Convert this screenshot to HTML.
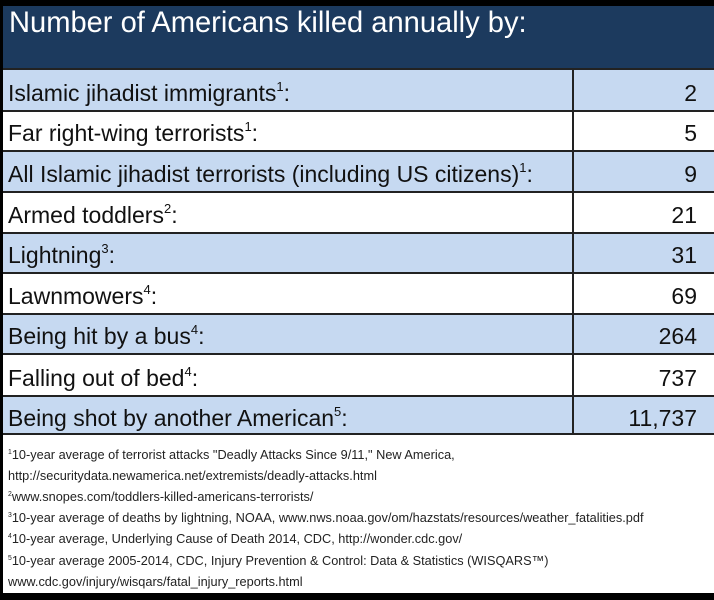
<!DOCTYPE html>
<html><head><meta charset="utf-8"><style>
body{margin:0;width:714px;height:600px;background:#000;overflow:hidden;font-family:"Liberation Sans",Arial,sans-serif;position:relative}
.hdr{position:absolute;left:3px;top:6px;width:711px;height:62px;background:#1c3a5e;color:#fff}
.hdr span{position:absolute;left:6px;top:0px;font-size:30px;transform:scaleX(.97);transform-origin:left top;white-space:nowrap}
.row{position:absolute;left:3px;width:711px;border-top:2px solid #222;box-sizing:border-box}
.b{background:#c6d9f1}.w{background:#fff}
.row .l{position:absolute;left:5px;bottom:3px;font-size:23px;color:#111;transform:scaleX(1.0);transform-origin:left bottom;white-space:nowrap}
.row .r{position:absolute;right:17px;bottom:3px;font-size:23px;color:#111}
.row .d{position:absolute;left:569px;top:0;bottom:0;width:2px;background:#222}
sup{font-size:13px;vertical-align:10px;line-height:0}
.foot{position:absolute;left:3px;top:433px;width:711px;height:160px;background:#fff;border-top:2px solid #222;box-sizing:border-box}
.foot div{position:absolute;left:5px;font-size:13px;color:#222;transform:scaleX(.98);transform-origin:left top;white-space:nowrap}
.foot sup{font-size:7px;vertical-align:5px}
</style></head><body>
<div class="hdr"><span>Number of Americans killed annually by:</span></div>
<div class="row b" style="top:68px;height:42px"><span class="l">Islamic jihadist immigrants<sup>1</sup>:</span><span class="d"></span><span class="r">2</span></div>
<div class="row w" style="top:110px;height:40px"><span class="l">Far right-wing terrorists<sup>1</sup>:</span><span class="d"></span><span class="r">5</span></div>
<div class="row b" style="top:150px;height:41px"><span class="l">All Islamic jihadist terrorists (including US citizens)<sup>1</sup>:</span><span class="d"></span><span class="r">9</span></div>
<div class="row w" style="top:191px;height:41px"><span class="l">Armed toddlers<sup>2</sup>:</span><span class="d"></span><span class="r">21</span></div>
<div class="row b" style="top:232px;height:40px"><span class="l">Lightning<sup>3</sup>:</span><span class="d"></span><span class="r">31</span></div>
<div class="row w" style="top:272px;height:41px"><span class="l">Lawnmowers<sup>4</sup>:</span><span class="d"></span><span class="r">69</span></div>
<div class="row b" style="top:313px;height:40px"><span class="l">Being hit by a bus<sup>4</sup>:</span><span class="d"></span><span class="r">264</span></div>
<div class="row w" style="top:353px;height:42px"><span class="l">Falling out of bed<sup>4</sup>:</span><span class="d"></span><span class="r">737</span></div>
<div class="row b" style="top:395px;height:40px"><span class="l">Being shot by another American<sup>5</sup>:</span><span class="d"></span><span class="r">11,737</span></div>
<div class="foot">
<div style="top:12px"><sup>1</sup>10-year average of terrorist attacks "Deadly Attacks Since 9/11," New America,</div>
<div style="top:33px">http://securitydata.newamerica.net/extremists/deadly-attacks.html</div>
<div style="top:54px"><sup>2</sup>www.snopes.com/toddlers-killed-americans-terrorists/</div>
<div style="top:75px"><sup>3</sup>10-year average of deaths by lightning, NOAA, www.nws.noaa.gov/om/hazstats/resources/weather_fatalities.pdf</div>
<div style="top:96px"><sup>4</sup>10-year average, Underlying Cause of Death 2014, CDC, http://wonder.cdc.gov/</div>
<div style="top:118px"><sup>5</sup>10-year average 2005-2014, CDC, Injury Prevention &amp; Control: Data &amp; Statistics (WISQARS™)</div>
<div style="top:139px">www.cdc.gov/injury/wisqars/fatal_injury_reports.html</div>
</div>
</body></html>
